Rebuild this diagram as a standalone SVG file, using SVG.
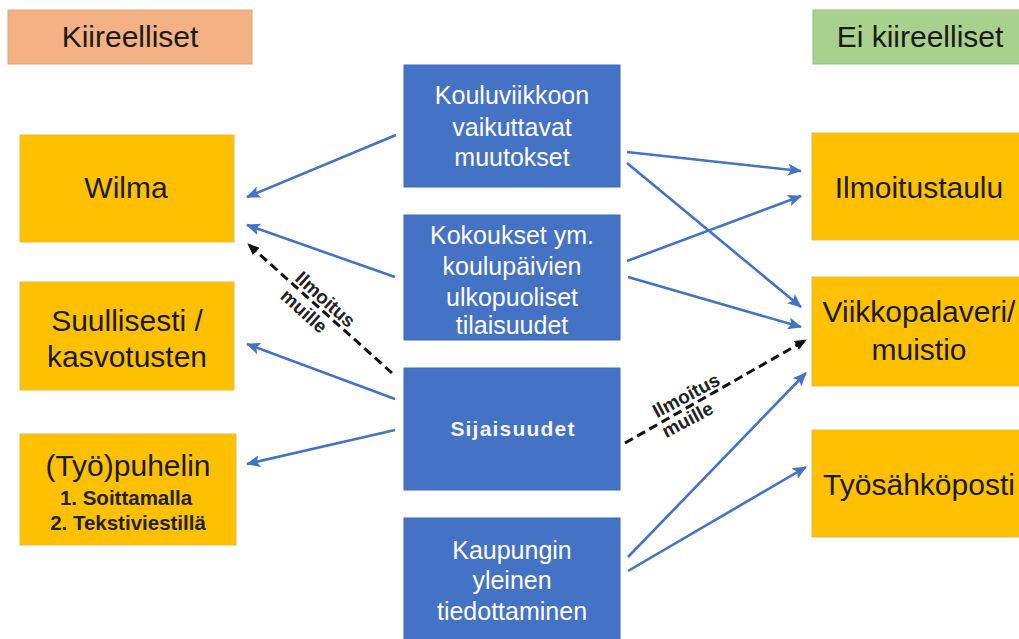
<svg xmlns="http://www.w3.org/2000/svg" width="1019" height="639" viewBox="0 0 1019 639">
<defs>
<style>
text{font-family:"Liberation Sans",Arial,sans-serif;text-anchor:middle}
.y{fill:#FFC000;stroke:#E9B84A;stroke-width:1}
.b{fill:#4472C4;stroke:#3f6cb8;stroke-width:1}
.yt{font-size:30px;fill:#1a1a1a}
.bt{font-size:25px;fill:#ffffff}
.sm{font-size:20.5px;font-weight:bold;fill:#222}
.ar{fill:none;stroke:#4472C4;stroke-width:2.6;marker-end:url(#ab)}
.da{fill:none;stroke:#111;stroke-width:3;stroke-dasharray:9 5;marker-end:url(#ak)}
.lb{font-size:19px;font-weight:bold;fill:#222;stroke:#fff;stroke-width:3;paint-order:stroke;stroke-linejoin:round}
</style>
<marker id="ab" markerUnits="userSpaceOnUse" markerWidth="14" markerHeight="12" refX="13" refY="6" orient="auto"><path d="M0,0 L14,6 L0,12 L3,6 z" fill="#4472C4"/></marker>
<marker id="ak" markerUnits="userSpaceOnUse" markerWidth="12" markerHeight="10" refX="11" refY="5" orient="auto"><path d="M0,0 L12,5 L0,10 z" fill="#111"/></marker>
</defs>
<rect width="1019" height="639" fill="#ffffff"/>
<g id="kiireelliset"><rect x="8" y="10" width="244" height="54" fill="#F4B183" stroke="#dca684"/><text x="130" y="47" style="font-size:30px;fill:#1a1a1a">Kiireelliset</text></g>
<g id="ei-kiireelliset"><rect x="813" y="10" width="215" height="54" fill="#A9D18E" stroke="#93bd79"/><text x="920" y="47" style="font-size:30px;fill:#1a1a1a">Ei kiireelliset</text></g>
<g id="wilma"><rect class="y" x="20" y="135" width="214" height="107"/><text class="yt" x="126" y="198">Wilma</text></g>
<g id="suullisesti"><rect class="y" x="20" y="282" width="214" height="108"/><text class="yt" x="127" y="331">Suullisesti /</text><text class="yt" x="127" y="367">kasvotusten</text></g>
<g id="puhelin"><rect class="y" x="20" y="434" width="216" height="111"/><text class="yt" x="128" y="476">(Työ)puhelin</text><text class="sm" x="126" y="505">1. Soittamalla</text><text class="sm" x="128" y="530">2. Tekstiviestillä</text></g>
<g id="kouluviikkoon"><rect class="b" x="404" y="65" width="216" height="122"/><text class="bt" x="512" y="104">Kouluviikkoon</text><text class="bt" x="512" y="136">vaikuttavat</text><text class="bt" x="512" y="166">muutokset</text></g>
<g id="kokoukset"><rect class="b" x="404" y="215" width="216" height="125"/><text class="bt" x="512" y="244">Kokoukset ym.</text><text class="bt" x="512" y="275">koulupäivien</text><text class="bt" x="512" y="306">ulkopuoliset</text><text class="bt" x="512" y="334">tilaisuudet</text></g>
<g id="sijaisuudet"><rect class="b" x="404" y="368" width="216" height="122"/><text x="513" y="436" style="font-size:21px;font-weight:bold;fill:#f4f6fb;letter-spacing:1.2px">Sijaisuudet</text></g>
<g id="kaupungin"><rect class="b" x="404" y="518" width="216" height="125"/><text class="bt" x="512" y="559">Kaupungin</text><text class="bt" x="512" y="589">yleinen</text><text class="bt" x="512" y="620">tiedottaminen</text></g>
<g id="ilmoitustaulu"><rect class="y" x="812" y="133" width="215" height="107"/><text class="yt" x="919" y="198">Ilmoitustaulu</text></g>
<g id="viikkopalaveri"><rect class="y" x="812" y="277" width="215" height="109"/><text class="yt" x="919" y="322">Viikkopalaveri/</text><text class="yt" x="919" y="360">muistio</text></g>
<g id="tyosahkoposti"><rect class="y" x="812" y="430" width="215" height="107"/><text class="yt" x="919" y="495">Työsähköposti</text></g>
<g id="connectors">
<line class="ar" x1="396" y1="135" x2="247" y2="197"/>
<line class="ar" x1="395" y1="277" x2="247" y2="225"/>
<line class="ar" x1="395" y1="399" x2="247" y2="344"/>
<line class="ar" x1="395" y1="430" x2="247" y2="464"/>
<line class="da" x1="392" y1="373" x2="248" y2="244"/>
<line class="ar" x1="627" y1="152" x2="801" y2="171"/>
<line class="ar" x1="627" y1="163" x2="801" y2="307"/>
<line class="ar" x1="627" y1="261" x2="801" y2="196"/>
<line class="ar" x1="628" y1="277" x2="801" y2="327"/>
<line class="ar" x1="628" y1="557" x2="806" y2="373"/>
<line class="ar" x1="628" y1="571" x2="806" y2="467"/>
<line class="da" x1="625" y1="443" x2="806" y2="340"/>
<g transform="translate(314,306) rotate(42)"><text class="lb" x="4" y="-6">Ilmoitus</text><text class="lb" x="-4" y="17">muille</text></g>
<g transform="translate(687,408) rotate(-28)"><text class="lb" x="5" y="-5">Ilmoitus</text><text class="lb" x="-5" y="17">muille</text></g>
</g>
</svg>
